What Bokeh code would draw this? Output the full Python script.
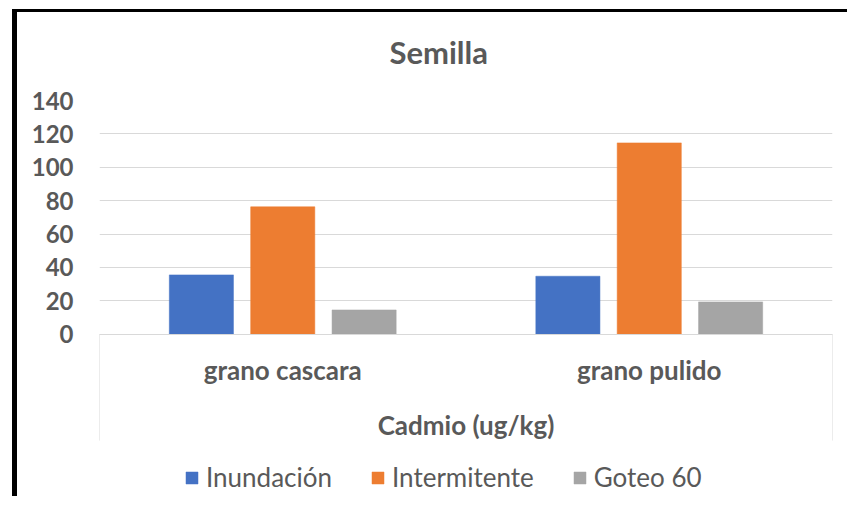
from bokeh.plotting import figure
from bokeh.models import (FactorRange, Range1d, FixedTicker, Legend, LegendItem,
                          ColumnDataSource)
from bokeh.transform import dodge
from bokeh.embed import file_html
from bokeh.resources import INLINE

# ---- data ----
categories = ["grano cascara", "grano pulido"]
series_names = ["Inundación", "Intermitente", "Goteo 60"]
inundacion = [35.5, 34.7]
intermitente = [76.3, 114.6]
goteo60 = [14.5, 19.3]
y_ticks = [0, 20, 40, 60, 80, 100, 120, 140]
colors = ["#4472C4", "#ED7D31", "#A5A5A5"]

FONT = "Lato"
TXT = "#595959"
GRID = "#D9D9D9"

src = ColumnDataSource(dict(cat=categories, s0=inundacion, s1=intermitente, s2=goteo60))

# black chart-border edges (left and top) painted behind a transparent canvas
border_css = {
    "background-image": "linear-gradient(#000,#000), linear-gradient(#000,#000)",
    "background-size": "5px 100%, 100% 3px",
    "background-position": "12px 9px, 12px 9px",
    "background-repeat": "no-repeat",
    "background-color": "white",
}

p = figure(x_range=FactorRange(*categories), y_range=Range1d(-97.3, 140),
           width=847, height=496, output_backend="svg", toolbar_location=None,
           min_border_left=99, min_border_right=15, min_border_top=99, min_border_bottom=0,
           styles=border_css)
p.outline_line_color = None
p.background_fill_color = None
p.border_fill_color = None

offsets = [-0.222, 0.0, 0.222]
renderers = []
for i, (name, col) in enumerate(zip(series_names, colors)):
    r = p.vbar(x=dodge("cat", offsets[i], range=p.x_range), top="s%d" % i, width=0.175,
               source=src, fill_color=col, line_color=col, line_width=0.5)
    renderers.append(r)

# category axis box edges (decoration)
box_bottom = -63.8
p.segment(x0=[0, 2], x1=[0, 2], y0=[0, 0], y1=[box_bottom, box_bottom],
          line_color=GRID, line_width=1)

# title
p.title.text = "Semilla"
p.title.align = "left"
p.title.offset = 290
p.title.standoff = 60
p.title.text_font = FONT
p.title.text_font_size = "31px"
p.title.text_font_style = "bold"
p.title.text_color = TXT

# y axis
p.yaxis.ticker = FixedTicker(ticks=y_ticks)
p.yaxis.axis_line_color = None
p.yaxis.major_tick_line_color = None
p.yaxis.minor_tick_line_color = None
p.yaxis.major_label_standoff = 20
p.yaxis.major_label_text_font = FONT
p.yaxis.major_label_text_font_size = "24px"
p.yaxis.major_label_text_font_style = "bold"
p.yaxis.major_label_text_color = TXT

p.ygrid.ticker = FixedTicker(ticks=y_ticks)
p.ygrid.grid_line_color = GRID
p.xgrid.grid_line_color = None

# x axis placed at y = 0 inside the frame
p.xaxis.fixed_location = 0
p.xaxis.axis_line_color = GRID
p.xaxis.major_tick_line_color = None
p.xaxis.minor_tick_line_color = None
p.xaxis.major_label_standoff = 14
p.xaxis.major_label_text_font = FONT
p.xaxis.major_label_text_font_size = "26px"
p.xaxis.major_label_text_font_style = "bold"
p.xaxis.major_label_text_color = TXT
p.xaxis.axis_label = "Cadmio (ug/kg)"
p.xaxis.axis_label_standoff = 19
p.xaxis.axis_label_text_font = FONT
p.xaxis.axis_label_text_font_size = "26px"
p.xaxis.axis_label_text_font_style = "bold"
p.xaxis.axis_label_text_color = TXT

legend = Legend(items=[LegendItem(label=n, renderers=[r]) for n, r in zip(series_names, renderers)],
                orientation="horizontal", location=(85, 3), margin=0, padding=0,
                spacing=38, glyph_width=15, glyph_height=15, label_standoff=7,
                label_text_font=FONT, label_text_font_size="26px", label_text_color=TXT,
                background_fill_alpha=0, border_line_color=None)
p.add_layout(legend, "center")

open("out.html", "w").write(file_html(p, INLINE))
